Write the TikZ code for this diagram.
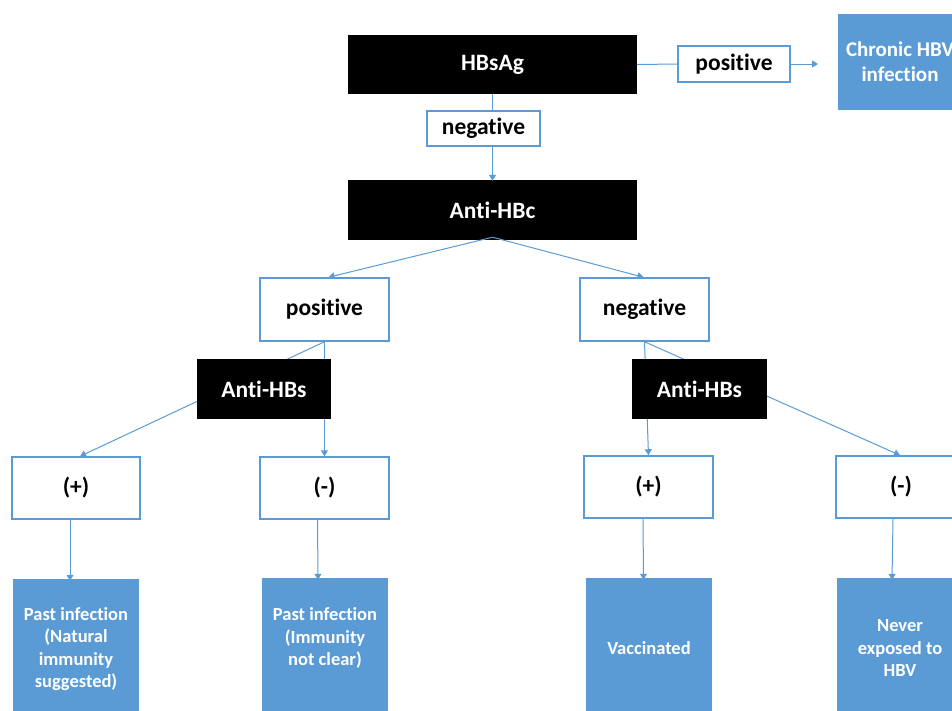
\documentclass[tikz,border=0pt]{standalone}
\usepackage{fontspec}
\setmainfont{Carlito}[Ligatures=NoCommon]
\usetikzlibrary{arrows.meta,calc}
\definecolor{cblue}{HTML}{5B9BD5}
\tikzset{
  blackbox/.style={fill=black, text=white, font=\bfseries\fontsize{23.5}{27}\selectfont, inner sep=0pt, minimum width=#1},
  wbox/.style={draw=cblue, line width=1.5pt, fill=white, text=black, font=\bfseries\fontsize{23.5}{27}\selectfont, inner sep=0pt, minimum width=#1},
  rbox/.style={fill=cblue, text=white, font=\bfseries\fontsize{18.5}{22.5}\selectfont, align=center, inner sep=0pt, minimum width=126pt, minimum height=140pt},
  conn/.style={draw=cblue, line width=1pt},
  arr/.style={conn, -{Triangle[width=7pt,length=6pt]}},
}
\begin{document}
\begin{tikzpicture}[x=1pt,y=-1pt]
\useasboundingbox (0,0) rectangle (952,710);
\clip (0,0) rectangle (952,710);
% top row
\node[blackbox=289pt, minimum height=59pt] (hbsag) at (492.5,64.5) {HBsAg};
\node[wbox=112pt, minimum height=36pt] (pos1) at (734,64) {positive};
\node[fill=cblue, text=white, font=\bfseries\fontsize{21}{25}\selectfont, align=center, inner sep=0pt, minimum width=124pt, minimum height=96pt] (chronic) at (900,62) {Chronic HBV\\infection};
\coordinate (chrin) at (818,64);
\node[wbox=113pt, minimum height=35pt] (neg1) at (483.5,128.5) {negative};
\node[blackbox=289pt, minimum height=60pt] (antihbc) at (492.5,210) {Anti-HBc};
% second level
\node[wbox=129pt, minimum height=63pt] (pos2) at (324.5,309.5) {positive};
\node[wbox=129pt, minimum height=63pt] (neg2) at (644.5,309.5) {negative};
% (+)/(-)
\node[wbox=128pt, minimum height=62pt] (p1) at (76,488) {(+)};
\node[wbox=129pt, minimum height=62pt] (m1) at (324.5,488) {(-)};
\node[wbox=129pt, minimum height=62pt] (p2) at (648.5,487) {(+)};
\node[wbox=130pt, minimum height=62pt] (m2) at (901,487) {(-)};
% results
\node[rbox] (r1) at (76,649) {Past infection\\(Natural\\immunity\\suggested)};
\node[rbox] (r2) at (325,648) {Past infection\\(Immunity\\not clear)\\\mbox{}};
\node[rbox] (r3) at (649,648) {Vaccinated};
\node[rbox] (r4) at (900,648) {Never\\exposed to\\HBV};
% connectors
\draw[conn] (hbsag.east) -- (pos1.west);
\draw[arr] (pos1.east) -- (chrin);
\draw[conn] (hbsag.south) -- (hbsag.south |- neg1.north);
\draw[arr] (hbsag.south |- neg1.south) -- ([yshift=-1pt]antihbc.north);
\draw[arr] ([yshift=3pt]antihbc.south) -- ([xshift=4pt]pos2.north);
\draw[arr] ([yshift=3pt]antihbc.south) -- ([xshift=-1pt]neg2.north);
\draw[arr] (pos2.south) -- ([xshift=4pt]p1.north);
\draw[arr] (pos2.south) -- (m1.north);
\draw[arr] (neg2.south) -- (p2.north);
\draw[arr] (neg2.south) -- ([xshift=-1pt]m2.north);
\draw[arr] ([xshift=-6pt]p1.south) -- ([xshift=-6pt,yshift=-2pt]r1.north);
\draw[arr] ([xshift=-7pt]m1.south) -- ([xshift=-7pt,yshift=-2pt]r2.north);
\draw[arr] ([xshift=-5.5pt]p2.south) -- ([xshift=-5.5pt,yshift=-2pt]r3.north);
\draw[arr] ([xshift=-8pt]m2.south) -- ([xshift=-8pt,yshift=-2pt]r4.north);
% Anti-HBs boxes drawn over the connectors
\node[blackbox=134pt, minimum height=60pt] (ahbs1) at (264,389) {Anti-HBs};
\node[blackbox=135pt, minimum height=60pt] (ahbs2) at (699.5,389) {Anti-HBs};
\end{tikzpicture}
\end{document}
